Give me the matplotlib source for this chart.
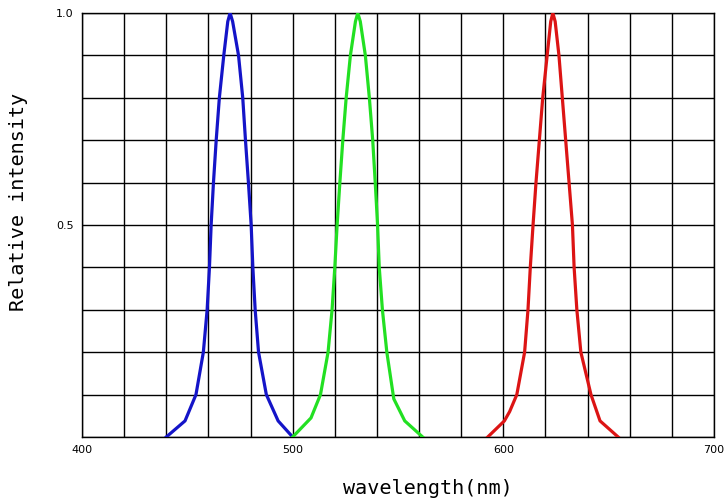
import matplotlib
matplotlib.use("Agg")
import matplotlib.pyplot as plt
from matplotlib.ticker import MultipleLocator, FuncFormatter

# spectra (wavelength nm, relative intensity)
blue_nm = [440.0, 448.9, 450.5, 454.1, 457.6, 459.4, 460.5, 461.3, 462.4, 463.7,
           465.2, 467.3, 469.2, 470.3, 471.5, 474.3, 476.3, 477.6, 479.0, 480.3,
           481.1, 482.2, 483.8, 487.5, 493.1, 500.0]
blue_val = [0.0, 0.038, 0.057, 0.1, 0.2, 0.3, 0.4, 0.5, 0.6, 0.7,
            0.8, 0.9, 0.98, 1.0, 0.98, 0.9, 0.8, 0.7, 0.6, 0.5,
            0.4, 0.3, 0.2, 0.1, 0.038, 0.0]

green_nm = [500.0, 508.7, 513.2, 516.8, 518.7, 520.0, 521.1, 522.4, 523.8,
            525.4, 527.4, 529.8, 530.9, 532.1, 534.5, 536.4, 538.0, 539.2,
            540.3, 541.1, 542.6, 544.7, 548.0, 553.2, 561.7]
green_val = [0.0, 0.045, 0.1, 0.2, 0.3, 0.4, 0.5, 0.6, 0.7,
             0.8, 0.9, 0.98, 1.0, 0.98, 0.9, 0.8, 0.7, 0.6,
             0.5, 0.4, 0.3, 0.2, 0.09, 0.038, 0.0]

red_nm = [592.6, 600.5, 603.0, 606.4, 610.1, 611.7, 612.8, 614.1, 615.5,
          617.1, 618.7, 620.8, 622.5, 623.5, 624.6, 626.4, 628.0, 629.6,
          631.2, 632.8, 633.6, 634.9, 636.8, 641.6, 645.9, 654.5]
red_val = [0.0, 0.038, 0.06, 0.1, 0.2, 0.3, 0.4, 0.5, 0.6,
           0.7, 0.8, 0.9, 0.98, 1.0, 0.98, 0.9, 0.8, 0.7,
           0.6, 0.5, 0.4, 0.3, 0.2, 0.1, 0.038, 0.0]

x_labels = [400, 500, 600, 700]
y_labels = [0.5, 1.0]

W, H = 728, 501
fig = plt.figure(figsize=(W / 100, H / 100), dpi=100)
ax = fig.add_axes([82 / W, 1 - 437 / H, (714 - 82) / W, (437 - 13) / H])

ax.plot(blue_nm, blue_val, color="#1414c8", lw=2.3, zorder=3)
ax.plot(green_nm, green_val, color="#22e022", lw=2.3, zorder=3)
ax.plot(red_nm, red_val, color="#dc1414", lw=2.3, zorder=3)

ax.set_xlim(400, 700)
ax.set_ylim(0, 1.0)
ax.xaxis.set_major_locator(MultipleLocator(20))
ax.yaxis.set_major_locator(MultipleLocator(0.1))


def xfmt(v, pos):
    v = int(round(v))
    return str(v) if v in x_labels else ""


def yfmt(v, pos):
    for l in y_labels:
        if abs(v - l) < 1e-6:
            return "%.1f" % l
    return ""


ax.xaxis.set_major_formatter(FuncFormatter(xfmt))
ax.yaxis.set_major_formatter(FuncFormatter(yfmt))
ax.tick_params(length=0, labelsize=8, pad=6)
ax.grid(True, color="black", lw=1.0)
for s in ax.spines.values():
    s.set_color("black")
    s.set_linewidth(1.0)

fig.text(428 / W, 1 - 488 / H, "wavelength(nm)", ha="center", va="center",
         fontsize=14.5, family="DejaVu Sans Mono")
fig.text(19 / W, 1 - 202 / H, "Relative intensity", ha="center", va="center",
         rotation=90, fontsize=14.5, family="DejaVu Sans Mono")

fig.savefig("out.png", dpi=100)
